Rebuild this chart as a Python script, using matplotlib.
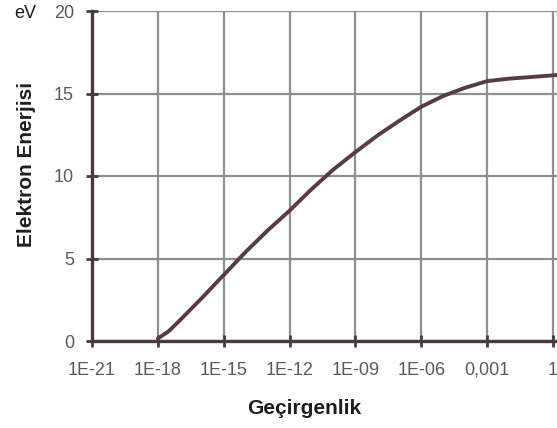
import numpy as np
import matplotlib

matplotlib.use("Agg")
import matplotlib.pyplot as plt

plt.rcParams["font.family"] = ["Liberation Sans", "DejaVu Sans"]

# ---------- data ----------
# x is the base-10 exponent of the permeability (Geçirgenlik)
exponent = [-18, -17.5, -17, -16, -15, -14, -13, -12, -11, -10,
            -9, -8, -7, -6, -5, -4, -3, -2, -1, 0, 0.2]
energy_ev = [0.15, 0.6, 1.25, 2.6, 4.0, 5.4, 6.7, 7.9, 9.2, 10.4,
             11.45, 12.45, 13.35, 14.2, 14.85, 15.35, 15.75, 15.9, 16.0, 16.1, 16.12]

xtick_pos = [-21, -18, -15, -12, -9, -6, -3, 0]
xtick_labels = ["1E-21", "1E-18", "1E-15", "1E-12", "1E-09", "1E-06", "0,001", "1"]
ytick_pos = [0, 5, 10, 15, 20]

W, H = 557, 428
fig = plt.figure(figsize=(W / 100, H / 100), dpi=100)

# axes: x=-21 at px 92, x=0 at px 553 -> axes runs past right edge
left_px, right_px = 92, 640
px_per_unit = (553 - 92) / 21
xmax = -21 + (right_px - left_px) / px_per_unit
ax = fig.add_axes([left_px / W, (H - 341) / H,
                   (right_px - left_px) / W, (341 - 11) / H])
ax.set_xlim(-21, xmax)
ax.set_ylim(0, 20)

ax.grid(True, color="#8f8f8f", lw=1.6)
ax.set_axisbelow(True)
for s in ("top", "right"):
    ax.spines[s].set_visible(False)
for s in ("left", "bottom"):
    ax.spines[s].set_color("#4a3a40")
    ax.spines[s].set_linewidth(2.4)

ax.plot(exponent, energy_ev, color="#573c46", lw=2.8,
        solid_capstyle="round", solid_joinstyle="round", zorder=3)

ax.set_xticks(xtick_pos)
ax.set_xticklabels(xtick_labels)
ax.set_yticks(ytick_pos)
ax.tick_params(axis="both", direction="inout", length=8, width=2,
               color="#4a3a40", labelcolor="#5a5a5a", labelsize=13)
ax.tick_params(axis="x", pad=11)
ax.tick_params(axis="y", pad=9)

fig.text(27 / W, 1 - 164 / H, "Elektron Enerjisi", rotation=90, ha="center", va="center",
         fontsize=15, fontweight="bold", color="#1e1e1e")
fig.text(304 / W, 1 - 408 / H, "Geçirgenlik", ha="center", va="center",
         fontsize=15, fontweight="bold", color="#1e1e1e")
fig.text(25 / W, 1 - 14 / H, "eV", ha="center", va="center",
         fontsize=13, color="#1e1e1e")

fig.savefig("out.png", dpi=100)
